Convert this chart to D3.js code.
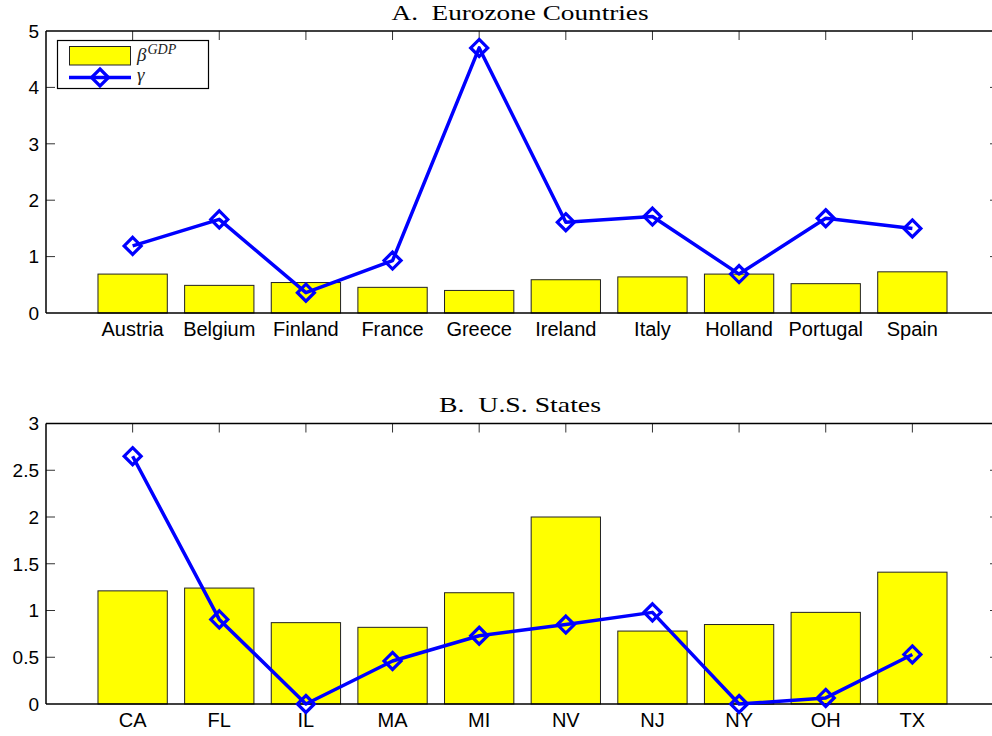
<!DOCTYPE html>
<html>
<head>
<meta charset="utf-8">
<script src="https://cdn.jsdelivr.net/npm/d3@7"></script>
<style>
  html, body { margin: 0; padding: 0; background: #fff; }
  svg { display: block; }
</style>
</head>
<body>
<div id="chart"></div>
<script>
// Panel A: Eurozone countries
const euroCountries = ["Austria", "Belgium", "Finland", "France", "Greece", "Ireland", "Italy", "Holland", "Portugal", "Spain"];
const euroBeta = [0.69, 0.49, 0.54, 0.455, 0.40, 0.59, 0.64, 0.69, 0.52, 0.73];
const euroGamma = [1.19, 1.66, 0.36, 0.93, 4.70, 1.61, 1.71, 0.69, 1.68, 1.50];
const euroTicks = [0, 1, 2, 3, 4, 5];

// Panel B: U.S. states
const usStates = ["CA", "FL", "IL", "MA", "MI", "NV", "NJ", "NY", "OH", "TX"];
const usBeta = [1.21, 1.24, 0.87, 0.82, 1.19, 2.00, 0.78, 0.85, 0.98, 1.41];
const usGamma = [2.65, 0.905, 0.0, 0.46, 0.73, 0.85, 0.98, 0.0, 0.065, 0.53];
const usTicks = [0, 0.5, 1, 1.5, 2, 2.5, 3];

const W = 992, H = 736;
const svg = d3.select("#chart").append("svg")
  .attr("width", W).attr("height", H);

const BLUE = "#0000ff", YELLOW = "#ffff00";
const tickFont = "'Liberation Sans', Arial, Helvetica, sans-serif";
const titleFont = "'Liberation Serif', 'Times New Roman', serif";

function panel(opts) {
  const { top, bottom, left, right, cats, beta, gamma, ticks, ymax, title, titleY, titleW } = opts;
  const x = d3.scaleLinear().domain([0, cats.length + 1]).range([left, right]);
  const y = d3.scaleLinear().domain([0, ymax]).range([bottom, top]);
  const step = x(1) - x(0);
  const bw = step * 0.8;
  const g = svg.append("g");

  // bars
  g.selectAll("rect.bar").data(beta).join("rect")
    .attr("class", "bar")
    .attr("x", (d, i) => x(i + 1) - bw / 2)
    .attr("y", d => y(d))
    .attr("width", bw)
    .attr("height", d => y(0) - y(d))
    .attr("fill", YELLOW)
    .attr("stroke", "#222")
    .attr("stroke-width", 1);

  // inward ticks on the boxed axis
  const tl = 9;
  const tickStroke = "#333";
  ticks.forEach(t => {
    if (t === 0 || t === ymax) return;
    g.append("line").attr("x1", left).attr("x2", left + tl)
      .attr("y1", y(t)).attr("y2", y(t)).attr("stroke", tickStroke).attr("stroke-width", 1);
    g.append("line").attr("x1", right - tl).attr("x2", right)
      .attr("y1", y(t)).attr("y2", y(t)).attr("stroke", tickStroke).attr("stroke-width", 1);
  });
  cats.forEach((c, i) => {
    g.append("line").attr("x1", x(i + 1)).attr("x2", x(i + 1))
      .attr("y1", top).attr("y2", top + tl).attr("stroke", tickStroke).attr("stroke-width", 1);
  });

  // axis frame
  [[left, top, left, bottom], [left, bottom, right, bottom], [left, top, right, top], [right, top, right, bottom]]
    .forEach(([x1, y1, x2, y2]) => {
      g.append("line").attr("x1", x1).attr("y1", y1).attr("x2", x2).attr("y2", y2)
        .attr("stroke", "#000").attr("stroke-width", 1.5);
    });

  // y tick labels
  g.selectAll("text.ytick").data(ticks).join("text")
    .attr("class", "ytick")
    .attr("x", left - 7).attr("y", d => y(d))
    .attr("dy", "0.36em")
    .attr("text-anchor", "end")
    .attr("font-family", tickFont).attr("font-size", 19)
    .attr("fill", "#000")
    .text(d => d);

  // x tick labels
  g.selectAll("text.xtick").data(cats).join("text")
    .attr("class", "xtick")
    .attr("x", (d, i) => x(i + 1)).attr("y", bottom + 23)
    .attr("text-anchor", "middle")
    .attr("font-family", tickFont).attr("font-size", 20)
    .attr("fill", "#000")
    .text(d => d);

  // gamma line with diamond markers
  const line = d3.line().x((d, i) => x(i + 1)).y(d => y(d));
  g.append("path").datum(gamma)
    .attr("d", line)
    .attr("fill", "none").attr("stroke", BLUE).attr("stroke-width", 3.5)
    .attr("stroke-linejoin", "round");

  const dsz = 8.5;
  const diamond = `M0,${-dsz}L${dsz},0L0,${dsz}L${-dsz},0Z`;
  g.selectAll("path.mk").data(gamma).join("path")
    .attr("class", "mk")
    .attr("transform", (d, i) => `translate(${x(i + 1)},${y(d)})`)
    .attr("d", diamond)
    .attr("fill", "none").attr("stroke", BLUE).attr("stroke-width", 3.2);

  // title
  g.append("text")
    .attr("x", 520).attr("y", titleY)
    .attr("text-anchor", "middle")
    .attr("font-family", titleFont).attr("font-size", 21.5)
    .attr("fill", "#000")
    .attr("textLength", titleW)
    .attr("lengthAdjust", "spacingAndGlyphs")
    .attr("xml:space", "preserve")
    .text(title);

  return { x, y };
}

panel({
  top: 31, bottom: 313, left: 46, right: 999,
  cats: euroCountries, beta: euroBeta, gamma: euroGamma,
  ticks: euroTicks, ymax: 5, title: "A.  Eurozone Countries", titleY: 20, titleW: 257
});

panel({
  top: 423.5, bottom: 704, left: 46, right: 999,
  cats: usStates, beta: usBeta, gamma: usGamma,
  ticks: usTicks, ymax: 3, title: "B.  U.S. States", titleY: 411.5, titleW: 162
});

// legend in panel A
const lg = svg.append("g");
lg.append("rect").attr("x", 57.5).attr("y", 40.5).attr("width", 151).attr("height", 48)
  .attr("fill", "#fff").attr("stroke", "#000").attr("stroke-width", 1.2);
lg.append("rect").attr("x", 69.5).attr("y", 46.5).attr("width", 61).attr("height", 18.5)
  .attr("fill", YELLOW).attr("stroke", "#222").attr("stroke-width", 1);
lg.append("line").attr("x1", 69).attr("x2", 131).attr("y1", 77.5).attr("y2", 77.5)
  .attr("stroke", BLUE).attr("stroke-width", 3.5);
lg.append("path").attr("transform", "translate(100,77.5)")
  .attr("d", "M0,-8.5L8.5,0L0,8.5L-8.5,0Z")
  .attr("fill", "none").attr("stroke", BLUE).attr("stroke-width", 3.2);
const betaLabel = lg.append("text").attr("x", 137).attr("y", 61)
  .attr("font-family", titleFont).attr("font-style", "italic").attr("font-size", 19).attr("fill", "#222");
betaLabel.append("tspan").text("β");
betaLabel.append("tspan").attr("dy", -7).attr("dx", 1).attr("font-size", 14).text("GDP");
lg.append("text").attr("x", 137).attr("y", 81)
  .attr("font-family", titleFont).attr("font-style", "italic").attr("font-size", 19).attr("fill", "#222")
  .text("γ");
</script>
</body>
</html>
